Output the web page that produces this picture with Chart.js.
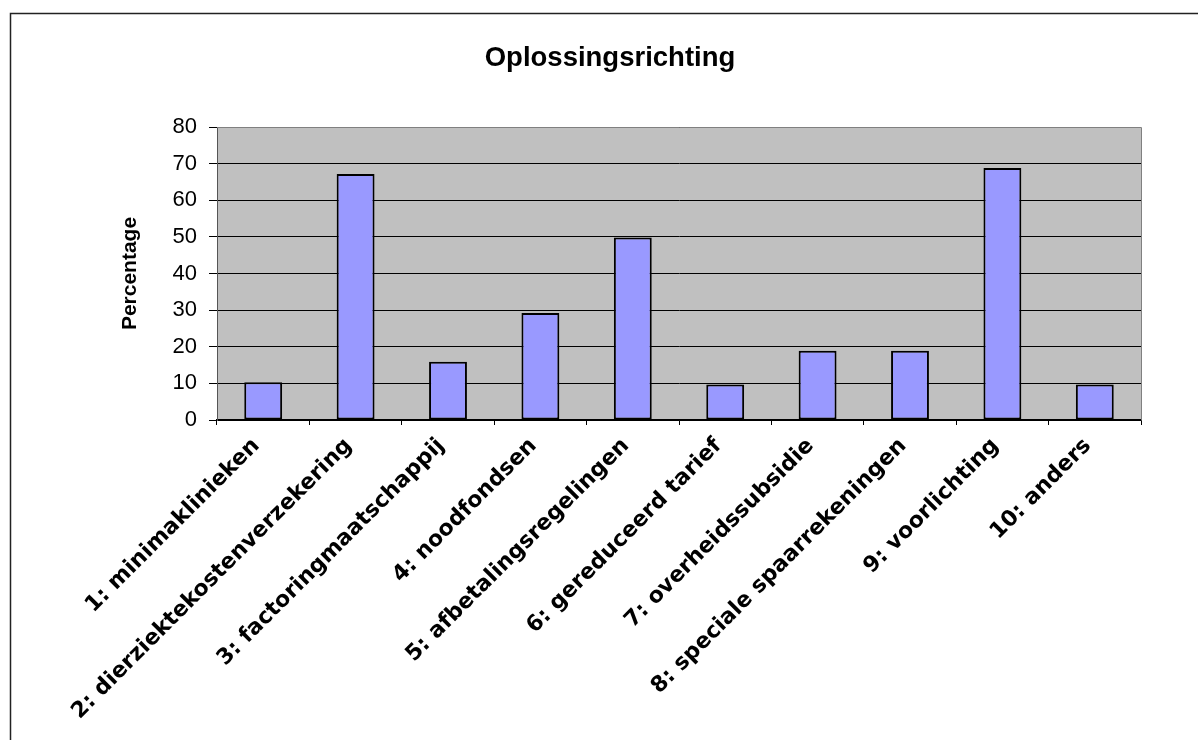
<!DOCTYPE html>
<html>
<head>
<meta charset="utf-8">
<script src="https://cdn.jsdelivr.net/npm/chart.js@4"></script>
<style>
  body { margin: 0; background: #fff; }
  #wrap { position: absolute; left: 0; top: 0; width: 1198px; height: 740px; }
</style>
</head>
<body>
<div id="wrap"><canvas id="bar-chart" width="1198" height="740"></canvas></div>
<script>
const categories = [
    '1: minimaklinieken',
    '2: dierziektekostenverzekering',
    '3: factoringmaatschappij',
    '4: noodfondsen',
    '5: afbetalingsregelingen',
    '6: gereduceerd tarief',
    '7: overheidssubsidie',
    '8: speciale spaarrekeningen',
    '9: voorlichting',
    '10: anders'
];
const percentages = [10.3, 67.2, 15.9, 29.2, 49.8, 9.7, 18.9, 18.9, 68.8, 9.7];
const yTicks = [0, 10, 20, 30, 40, 50, 60, 70, 80];

// grey plot background + frame, and the outer border of the chart
const plotFrame = {
    id: 'plotFrame',
    beforeDraw(chart) {
        const { ctx, chartArea: a } = chart;
        ctx.save();
        ctx.fillStyle = '#c0c0c0';
        ctx.fillRect(a.left, a.top, a.right - a.left, a.bottom - a.top);
        ctx.restore();
    },
    afterDatasetsDraw(chart) {
        const { ctx, chartArea: a } = chart;
        ctx.save();
        ctx.strokeStyle = '#808080';
        ctx.lineWidth = 1;
        ctx.beginPath();
        ctx.moveTo(a.left, a.top + 0.5);
        ctx.lineTo(a.right + 0.5, a.top + 0.5);
        ctx.lineTo(a.right + 0.5, a.bottom);
        ctx.stroke();
        ctx.strokeStyle = '#222';
        ctx.lineWidth = 1.5;
        ctx.beginPath();
        ctx.moveTo(10.5, 740);
        ctx.lineTo(10.5, 13.5);
        ctx.lineTo(1198, 13.5);
        ctx.stroke();
        ctx.restore();
    }
};

new Chart(document.querySelector('#bar-chart').getContext('2d'), {
    type: 'bar',
    data: {
        labels: categories,
        datasets: [{
            label: 'Percentage',
            data: percentages,
            backgroundColor: '#9999ff',
            borderColor: '#000',
            borderWidth: 2,
            borderSkipped: false,
            categoryPercentage: 1,
            barPercentage: 0.41
        }]
    },
    options: {
        responsive: false,
        animation: false,
        layout: { padding: { left: 79, right: 57, top: 0, bottom: 0 } },
        plugins: {
            legend: { display: false },
            tooltip: { enabled: false },
            title: {
                display: true,
                text: 'Oplossingsrichting',
                color: '#000',
                font: { family: 'Liberation Sans, Arial', size: 27.5, weight: 'bold' },
                padding: { top: 42, bottom: 52 }
            }
        },
        scales: {
            x: {
                grid: { drawOnChartArea: false, drawTicks: true, tickLength: 5, color: '#000' },
                border: { color: '#000', width: 1.5 },
                ticks: {
                    color: '#000',
                    autoSkip: false,
                    minRotation: 45,
                    maxRotation: 45,
                    padding: 8,
                    labelOffset: -7,
                    font: { family: 'DejaVu Sans', size: 22, weight: 'bold' }
                },
                afterFit: scale => { scale.height = 320; }
            },
            y: {
                min: 0,
                max: 80,
                afterBuildTicks: scale => { scale.ticks = yTicks.map(v => ({ value: v })); },
                grid: { color: '#000', lineWidth: 1, tickLength: 8 },
                border: { color: '#555', width: 1 },
                ticks: {
                    color: '#000',
                    padding: 12,
                    font: { family: 'Liberation Sans, Arial', size: 22 }
                },
                title: {
                    display: true,
                    text: 'Percentage',
                    color: '#000',
                    padding: { top: 39, bottom: 0 },
                    font: { family: 'Liberation Sans, Arial', size: 21, weight: 'bold' }
                },
                afterFit: scale => { scale.width = 138; }
            }
        }
    },
    plugins: [plotFrame]
});
</script>
</body>
</html>
